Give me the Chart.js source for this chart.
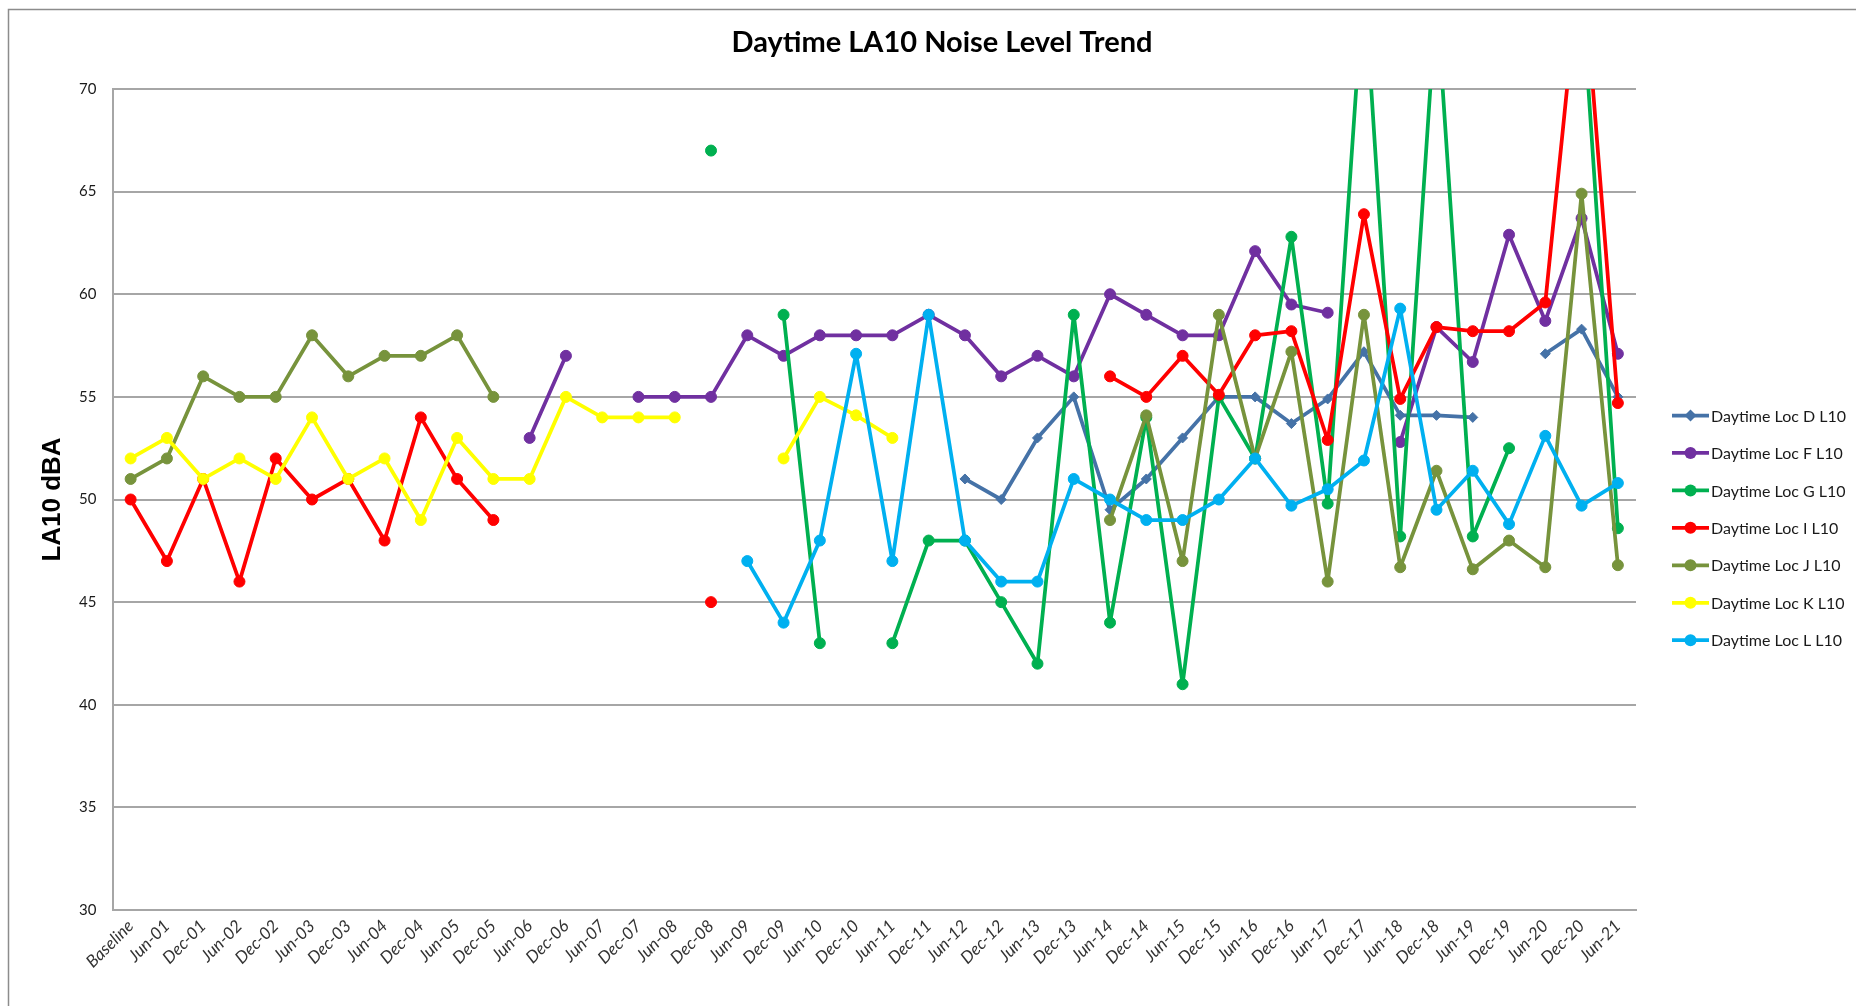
<!DOCTYPE html>
<html>
<head>
<meta charset="utf-8">
<script src="https://cdn.jsdelivr.net/npm/chart.js@4.4.0/dist/chart.umd.min.js"></script>
<style>
html,body{margin:0;padding:0;background:#fff;overflow:hidden;}
#wrap{position:absolute;left:0;top:0;width:1856px;height:1006px;}
</style>
</head>
<body>
<div id="wrap"><canvas id="c" width="1856" height="1006"></canvas></div>
<script>
const categories = ["Baseline","Jun-01","Dec-01","Jun-02","Dec-02","Jun-03","Dec-03","Jun-04","Dec-04","Jun-05","Dec-05","Jun-06","Dec-06","Jun-07","Dec-07","Jun-08","Dec-08","Jun-09","Dec-09","Jun-10","Dec-10","Jun-11","Dec-11","Jun-12","Dec-12","Jun-13","Dec-13","Jun-14","Dec-14","Jun-15","Dec-15","Jun-16","Dec-16","Jun-17","Dec-17","Jun-18","Dec-18","Jun-19","Dec-19","Jun-20","Dec-20","Jun-21"];

const seriesNames = ["Daytime Loc D L10","Daytime Loc F L10","Daytime Loc G L10","Daytime Loc I L10","Daytime Loc J L10","Daytime Loc K L10","Daytime Loc L L10"];
const seriesColors = ["#4572A7","#7030A0","#00B050","#FF0000","#77933C","#FFFF00","#00B0F0"];

const N = null;
const locD = [N,N,N,N,N,N,N,N,N,N,N,N,N,N,N,N,N,N,N,N,N,N,N,51,50,53,55,49.5,51,53,55,55,53.7,54.9,57.2,54.1,54.1,54.0,N,57.1,58.3,55];
const locF = [N,N,N,N,N,N,N,N,N,N,N,53,57,N,55,55,55,58,57,58,58,58,59,58,56,57,56,60,59,58,58,62.1,59.5,59.1,N,52.8,58.4,56.7,62.9,58.7,63.7,57.1];
const locG = [N,N,N,N,N,N,N,N,N,N,N,N,N,N,N,N,67,N,59,43,N,43,48,48,45,42,59,44,54,41,55,52,62.8,49.8,75.5,48.2,74.5,48.2,52.5,N,75,48.6];
const locI = [50,47,51,46,52,50,51,48,54,51,49,N,N,N,N,N,45,N,N,N,N,N,N,N,N,N,N,56,55,57,55.1,58,58.2,52.9,63.9,54.9,58.4,58.2,58.2,59.6,77,54.7];
const locJ = [51,52,56,55,55,58,56,57,57,58,55,N,N,N,N,N,N,N,N,N,N,N,N,N,N,N,N,49,54.1,47,59,52,57.2,46,59,46.7,51.4,46.6,48,46.7,64.9,46.8];
const locK = [52,53,51,52,51,54,51,52,49,53,51,51,55,54,54,54,N,N,52,55,54.1,53,N,N,N,N,N,N,N,N,N,N,N,N,N,N,N,N,N,N,N,N];
const locL = [N,N,N,N,N,N,N,N,N,N,N,N,N,N,N,N,N,47,44,48,57.1,47,59,48,46,46,51,50,49,49,50,52,49.7,50.5,51.9,59.3,49.5,51.4,48.8,53.1,49.7,50.8];

const yTicks = {min: 30, max: 70, step: 5};
const chartTitle = "Daytime LA10 Noise Level Trend";
const yTitle = "LA10 dBA";

const seriesData = [locD, locF, locG, locI, locJ, locK, locL];
const datasets = seriesData.map((d, i) => ({
  label: seriesNames[i],
  data: d,
  borderColor: seriesColors[i],
  backgroundColor: seriesColors[i],
  pointBackgroundColor: seriesColors[i],
  pointBorderColor: seriesColors[i],
  borderWidth: 3.75,
  borderJoinStyle: 'round',
  borderCapStyle: 'round',
  pointStyle: i === 0 ? 'rectRot' : 'circle',
  pointRadius: i === 0 ? 5 : 5.5,
  pointBorderWidth: 1,
  tension: 0,
  spanGaps: false,
  yAxisID: 'y',
  order: 10 - i
}));

const framePlugin = {
  id: 'frame',
  beforeDraw(chart) {
    const ctx = chart.ctx;
    ctx.save();
    ctx.fillStyle = '#ffffff';
    ctx.fillRect(0, 0, chart.width, chart.height);
    ctx.strokeStyle = '#8c8c8c';
    ctx.lineWidth = 1.5;
    ctx.beginPath();
    ctx.moveTo(8.5, chart.height);
    ctx.lineTo(8.5, 9.5);
    ctx.lineTo(chart.width, 9.5);
    ctx.stroke();
    ctx.restore();
  },
  afterDraw(chart) {
    const ctx = chart.ctx;
    ctx.save();
    const x0 = 1672, x1 = 1709, y0 = 415.5, dy = 37.45;
    chart.data.datasets.forEach((ds, i) => {
      const y = y0 + i * dy;
      ctx.strokeStyle = ds.borderColor;
      ctx.lineWidth = 3.75;
      ctx.beginPath();
      ctx.moveTo(x0, y);
      ctx.lineTo(x1, y);
      ctx.stroke();
      ctx.fillStyle = ds.backgroundColor;
      const cx = (x0 + x1) / 2;
      ctx.beginPath();
      if (ds.pointStyle === 'rectRot') {
        const r = 6;
        ctx.moveTo(cx, y - r); ctx.lineTo(cx + r, y); ctx.lineTo(cx, y + r); ctx.lineTo(cx - r, y); ctx.closePath();
      } else {
        ctx.arc(cx, y, 6, 0, Math.PI * 2);
      }
      ctx.fill();
      ctx.fillStyle = '#1a1a1a';
      ctx.font = '16px Lato';
      ctx.textAlign = 'left';
      ctx.textBaseline = 'middle';
      ctx.fillText(ds.label, 1711, y + 1);
    });
    ctx.restore();
  }
};

new Chart(document.getElementById('c'), {
  type: 'line',
  data: { labels: categories, datasets },
  plugins: [framePlugin],
  options: {
    responsive: false,
    animation: false,
    devicePixelRatio: 1,
    layout: { padding: { left: 28, right: 0, top: 0, bottom: 0 } },
    plugins: {
      legend: { display: false },
      tooltip: { enabled: false },
      title: {
        display: true,
        text: chartTitle,
        color: '#000',
        font: { family: 'Lato', size: 29, weight: 'bold', lineHeight: 1.2 },
        padding: { top: 25.6, bottom: 28.6 }
      }
    },
    scales: {
      x: {
        type: 'category',
        offset: true,
        grid: { display: false, drawTicks: false },
        border: { display: true, color: '#a6a6a6', width: 2 },
        ticks: {
          autoSkip: false, maxRotation: 45, minRotation: 45, padding: 6,
          color: '#333333',
          font: { family: 'Lato', size: 17, style: 'italic' }
        },
        afterFit(s) { s.height = 96; }
      },
      y: {
        min: yTicks.min, max: yTicks.max,
        ticks: { stepSize: yTicks.step, padding: 16, color: '#1a1a1a', font: { family: 'Lato', size: 15 } },
        grid: { color: '#a6a6a6', lineWidth: 2, drawTicks: false },
        border: { display: true, color: '#a6a6a6', width: 2 },
        title: {
          display: true, text: yTitle, color: '#000',
          font: { family: 'Liberation Sans', size: 26, weight: 'bold', lineHeight: 1.2 },
          padding: { top: 9.4, bottom: 4 }
        },
        afterFit(s) { s.width = 84.5; }
      },
      yLegendSpace: {
        position: 'right',
        display: true,
        min: yTicks.min, max: yTicks.max,
        grid: { display: false, drawTicks: false },
        border: { display: false },
        ticks: { display: false },
        afterFit(s) { s.width = 220; }
      }
    }
  }
});
</script>
</body>
</html>
